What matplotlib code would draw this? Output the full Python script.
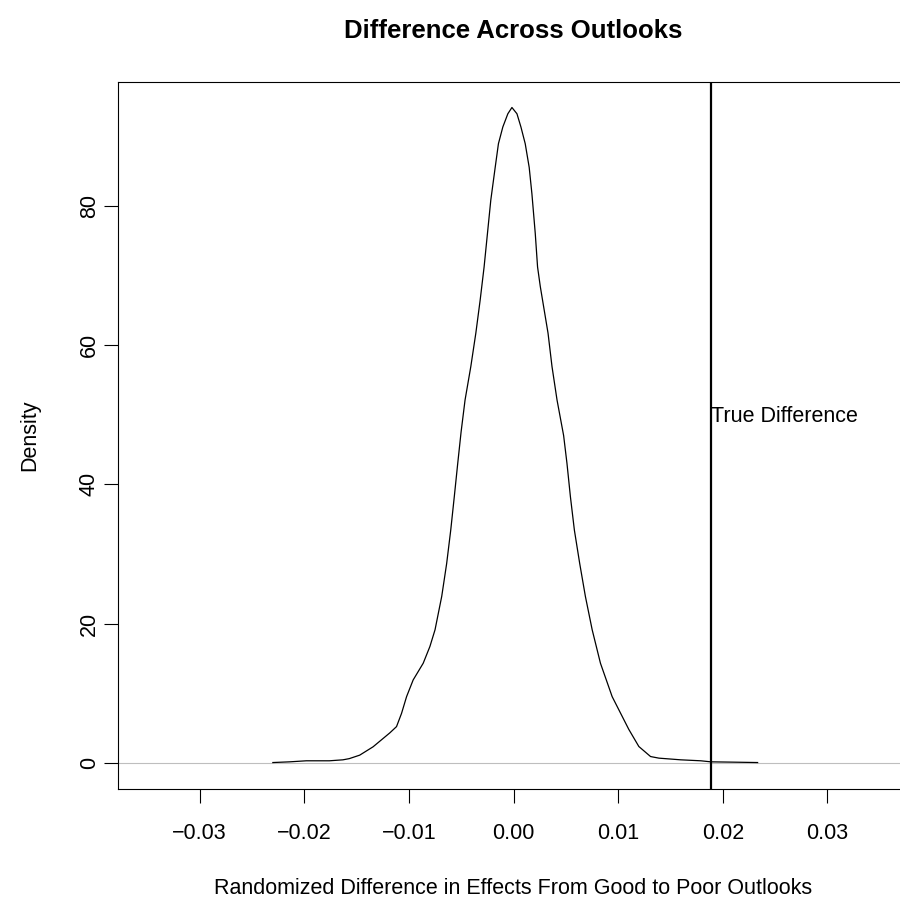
import numpy as np
import matplotlib
matplotlib.use("Agg")
import matplotlib.pyplot as plt

plt.rcParams['font.family'] = ['Liberation Sans', 'DejaVu Sans']

# density of randomized differences
diff_x = [-0.0230, -0.0214, -0.0198, -0.0176, -0.0163, -0.0157, -0.0147, -0.01342,
          -0.01262, -0.01182, -0.01118, -0.0107, -0.01022, -0.00959, -0.00863,
          -0.00799, -0.0075, -0.00686, -0.00639, -0.006, -0.00566, -0.00533,
          -0.00501, -0.00463, -0.00408, -0.0036, -0.00319, -0.00281, -0.00249,
          -0.00217, -0.00175, -0.00144, -0.00102, -0.00054, -0.00015,
          0.00033, 0.00071, 0.00112, 0.0015, 0.00176, 0.00208, 0.0023, 0.00256,
          0.00288, 0.0033, 0.00368, 0.00416, 0.00479, 0.00511, 0.00544, 0.00582,
          0.00633, 0.00687, 0.00752, 0.00831, 0.00943, 0.01102, 0.01198, 0.0131,
          0.0139, 0.01598, 0.0179, 0.01886, 0.0208, 0.02333]
density = [0.04, 0.14, 0.29, 0.29, 0.43, 0.6, 1.1, 2.3,
           3.3, 4.3, 5.2, 7.1, 9.5, 11.9, 14.3,
           16.7, 19.1, 23.9, 28.6, 33.4, 38.2, 43.0,
           47.5, 52.1, 56.9, 61.7, 66.4, 71.2, 76.0,
           80.8, 85.5, 88.9, 91.3, 93.2, 94.1,
           93.2, 91.3, 88.9, 85.5, 81.7, 76.0, 71.2, 68.4,
           65.5, 61.7, 56.9, 52.1, 47.0, 43.0, 38.2, 33.4,
           28.6, 23.9, 19.1, 14.3, 9.5, 4.8, 2.34, 0.9,
           0.67, 0.43, 0.29, 0.14, 0.1, 0.04]
true_diff = 0.0189
x_ticks = [-0.03, -0.02, -0.01, 0.0, 0.01, 0.02, 0.03]
x_ticklabels = ["\u22120.03", "\u22120.02", "\u22120.01", "0.00", "0.01", "0.02", "0.03"]
y_ticks = [0, 20, 40, 60, 80]

fig = plt.figure(figsize=(9, 9.01), dpi=100)
# right edge of the box lies just past the image edge, as in the reference
ax = fig.add_axes([118 / 900, 1 - 789 / 901, (909 - 118) / 900, (789 - 82) / 901])

ax.axhline(0, color="#BEBEBE", lw=0.8, zorder=1)
ax.plot(diff_x, density, color="black", lw=0.9, zorder=2)
ax.axvline(true_diff, color="black", lw=1.6, zorder=3)
ax.text(true_diff, 49.7, "True Difference", ha="left", va="center", fontsize=15.5)

ax.set_xlim(-0.0378, 0.0378)
ax.set_ylim(-3.76, 97.76)
ax.set_xticks(x_ticks)
ax.set_xticklabels(x_ticklabels)
ax.set_yticks(y_ticks)
ax.set_yticklabels([str(v) for v in y_ticks], rotation=90, va="center")
ax.tick_params(axis="both", direction="out", length=10, width=0.8, labelsize=15.5)
ax.tick_params(axis="x", pad=14.5)
ax.tick_params(axis="y", pad=3)
for s in ax.spines.values():
    s.set_linewidth(0.8)

fig.text(513.5 / 900, 1 - 31 / 901, "Difference Across Outlooks", ha="center", va="center",
         fontsize=18.5, fontweight="bold")
fig.text(513.5 / 900, 1 - 888 / 901, "Randomized Difference in Effects From Good to Poor Outlooks",
         ha="center", va="center", fontsize=15.5)
fig.text(30 / 900, 1 - 435.5 / 901, "Density", ha="center", va="center", rotation=90, fontsize=15.5)

fig.savefig("out.png", dpi=100)
